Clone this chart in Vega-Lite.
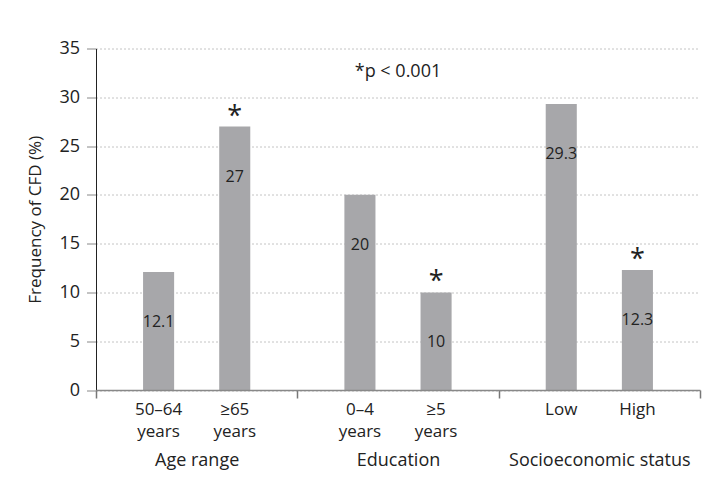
{
  "$schema": "https://vega.github.io/schema/vega-lite/v6.json",
  "width": 604,
  "height": 341.5,
  "autosize": "none",
  "padding": {"left": 96, "top": 48.5, "right": 20, "bottom": 100},
  "config": {"view": {"stroke": null}, "font": "Open Sans", "background": "white"},
  "data": {"values": [
    {"group": "Age range", "level": "lower", "category": "50–64\nyears", "value": 12.1, "sig": ""},
    {"group": "Age range", "level": "higher", "category": "≥65\nyears", "value": 27, "sig": "*"},
    {"group": "Education", "level": "lower", "category": "0–4\nyears", "value": 20, "sig": ""},
    {"group": "Education", "level": "higher", "category": "≥5\nyears", "value": 10, "sig": "*", "note": "*p < 0.001"},
    {"group": "Socioeconomic status", "level": "lower", "category": "Low", "value": 29.3, "sig": ""},
    {"group": "Socioeconomic status", "level": "higher", "category": "High", "value": 12.3, "sig": "*"}
  ]},
  "encoding": {
    "x": {
      "field": "group", "type": "nominal",
      "scale": {"domain": ["Age range", "Education", "Socioeconomic status"], "paddingInner": 0, "paddingOuter": 0},
      "axis": {
        "title": null, "labelAngle": 0, "tickBand": "extent", "tickSize": 8, "tickColor": "#777", "tickWidth": 1.5,
        "domainColor": "#888", "domainWidth": 1.5, "labelFontSize": 18, "labelColor": "#222", "labelPadding": 53,
        "labelLimit": 0, "zindex": 1
      }
    },
    "y": {
      "field": "value", "type": "quantitative",
      "scale": {"domain": [0, 35], "nice": false},
      "axis": {
        "title": "Frequency of CFD (%)", "values": [0, 5, 10, 15, 20, 25, 30, 35],
        "tickSize": 9.5, "tickColor": "#888", "domainColor": "#222", "labelFontSize": 18, "labelColor": "#222",
        "labelPadding": 7, "titleFontSize": 17, "titleFontWeight": "normal", "titleColor": "#222", "titlePadding": 14,
        "grid": true, "gridDash": [1, 3], "gridColor": "#888", "zindex": 0
      }
    }
  },
  "layer": [
    {
      "mark": {"type": "bar", "color": "#a7a7aa"},
      "encoding": {
        "xOffset": {"field": "level", "type": "nominal", "sort": ["lower", "higher"], "scale": {"paddingInner": 0.592, "paddingOuter": 0.618}}
      }
    },
    {
      "mark": {"type": "text", "baseline": "middle", "dy": 50, "fontSize": 16, "color": "#222"},
      "encoding": {
        "xOffset": {"field": "level", "type": "nominal", "sort": ["lower", "higher"]},
        "text": {"field": "value", "type": "quantitative"}
      }
    },
    {
      "mark": {"type": "text", "baseline": "alphabetic", "dy": -2, "fontSize": 27, "color": "#222"},
      "encoding": {
        "xOffset": {"field": "level", "type": "nominal", "sort": ["lower", "higher"]},
        "text": {"field": "sig", "type": "nominal"}
      }
    },
    {
      "mark": {"type": "text", "baseline": "top", "dy": 12, "fontSize": 17, "lineHeight": 22, "lineBreak": "\n", "color": "#222"},
      "encoding": {
        "xOffset": {"field": "level", "type": "nominal", "sort": ["lower", "higher"]},
        "y": {"datum": 0},
        "text": {"field": "category", "type": "nominal"}
      }
    },
    {
      "transform": [{"filter": "isValid(datum.note)"}],
      "mark": {"type": "text", "baseline": "middle", "fontSize": 18, "color": "#222"},
      "encoding": {
        "y": {"datum": 32.6},
        "text": {"field": "note", "type": "nominal"}
      }
    }
  ]
}
